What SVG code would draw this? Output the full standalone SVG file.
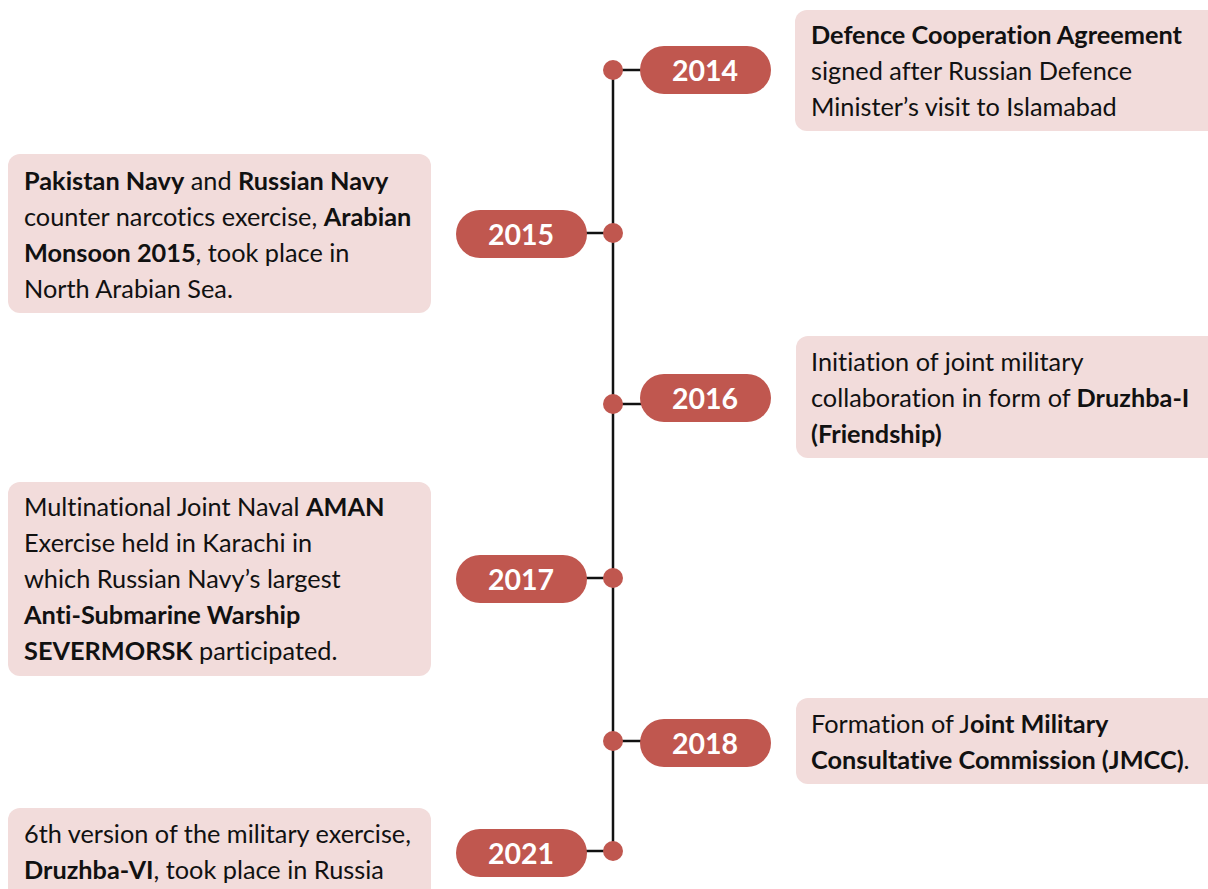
<svg xmlns="http://www.w3.org/2000/svg" width="1208" height="889" viewBox="0 0 1208 889">
<style>
.box{fill:#f2dcdb}
.pill{fill:#c0574f}
.dot{fill:#c0574f}
.yr{font-family:Lato,"Liberation Sans",sans-serif;font-weight:700;font-size:28.5px;fill:#fff;text-anchor:middle}
.t{font-family:Lato,"Liberation Sans",sans-serif;font-size:25.3px;fill:#111;font-variant-ligatures:none}
.b{font-weight:700}
.ln{stroke:#111;stroke-width:2.5;fill:none}
</style>
<rect width="1208" height="889" fill="#fff"/>
<g id="connectors">
<line class="ln" x1="613" y1="70" x2="613" y2="851"/>
<line class="ln" x1="613" y1="70" x2="642" y2="70"/>
<line class="ln" x1="585" y1="233" x2="613" y2="233"/>
<line class="ln" x1="613" y1="404" x2="642" y2="404"/>
<line class="ln" x1="585" y1="578" x2="613" y2="578"/>
<line class="ln" x1="613" y1="741" x2="642" y2="741"/>
<line class="ln" x1="585" y1="851" x2="613" y2="851"/>
</g>
<g id="n2014">
<circle class="dot" cx="613" cy="70" r="10"/>
<rect class="pill" x="640" y="46" width="131" height="48" rx="24"/>
<text class="yr" x="705" y="81">2014</text>
<rect class="box" x="795" y="10" width="425" height="121" rx="12"/>
<text class="t" x="811" y="44"><tspan class="b">Defence Cooperation Agreement</tspan></text>
<text class="t" x="811" y="80">signed after Russian Defence</text>
<text class="t" x="811" y="116">Minister’s visit to Islamabad</text>
</g>
<g id="n2015">
<circle class="dot" cx="613" cy="233" r="10"/>
<rect class="pill" x="456" y="210" width="131" height="48" rx="24"/>
<text class="yr" x="521" y="245">2015</text>
<rect class="box" x="8" y="154" width="423" height="159" rx="12"/>
<text class="t" x="24" y="190"><tspan class="b">Pakistan Navy</tspan> and <tspan class="b">Russian Navy</tspan></text>
<text class="t" x="24" y="226">counter narcotics exercise, <tspan class="b">Arabian</tspan></text>
<text class="t" x="24" y="262"><tspan class="b">Monsoon 2015</tspan>, took place in</text>
<text class="t" x="24" y="298">North Arabian Sea.</text>
</g>
<g id="n2016">
<circle class="dot" cx="613" cy="404" r="10"/>
<rect class="pill" x="640" y="374" width="131" height="48" rx="24"/>
<text class="yr" x="705" y="409">2016</text>
<rect class="box" x="796" y="336" width="425" height="122" rx="12"/>
<text class="t" x="811" y="371">Initiation of joint military</text>
<text class="t" x="811" y="407">collaboration in form of <tspan class="b">Druzhba-I</tspan></text>
<text class="t" x="811" y="443"><tspan class="b">(Friendship)</tspan></text>
</g>
<g id="n2017">
<circle class="dot" cx="613" cy="578" r="10"/>
<rect class="pill" x="456" y="555" width="131" height="48" rx="24"/>
<text class="yr" x="521" y="590">2017</text>
<rect class="box" x="8" y="482" width="423" height="194" rx="12"/>
<text class="t" x="24" y="516">Multinational Joint Naval <tspan class="b">AMAN</tspan></text>
<text class="t" x="24" y="552">Exercise held in Karachi in</text>
<text class="t" x="24" y="588">which Russian Navy’s largest</text>
<text class="t" x="24" y="624"><tspan class="b">Anti-Submarine Warship</tspan></text>
<text class="t" x="24" y="660"><tspan class="b">SEVERMORSK</tspan> participated.</text>
</g>
<g id="n2018">
<circle class="dot" cx="613" cy="741" r="10"/>
<rect class="pill" x="640" y="719" width="131" height="48" rx="24"/>
<text class="yr" x="705" y="754">2018</text>
<rect class="box" x="796" y="698" width="425" height="86" rx="12"/>
<text class="t" x="811" y="733">Formation of J<tspan class="b">oint Military</tspan></text>
<text class="t" x="811" y="769"><tspan class="b">Consultative Commission (JMCC)</tspan>.</text>
</g>
<g id="n2021">
<circle class="dot" cx="613" cy="851" r="10"/>
<rect class="pill" x="456" y="829" width="131" height="48" rx="24"/>
<text class="yr" x="521" y="864">2021</text>
<rect class="box" x="8" y="808" width="423" height="100" rx="12"/>
<text class="t" x="24" y="843">6th version of the military exercise,</text>
<text class="t" x="24" y="879"><tspan class="b">Druzhba-VI</tspan>, took place in Russia</text>
</g>
</svg>
